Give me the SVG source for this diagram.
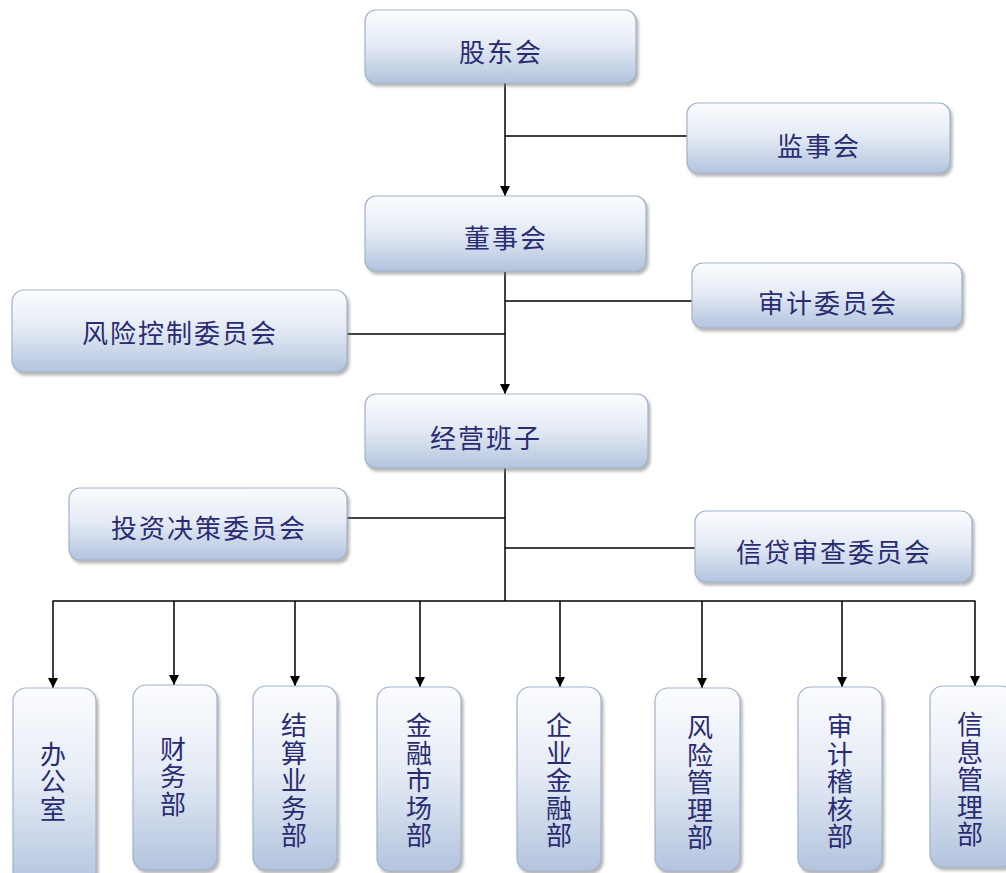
<svg xmlns="http://www.w3.org/2000/svg" width="1006" height="873" viewBox="0 0 1006 873">
<defs>
<linearGradient id="g" x1="0" y1="0" x2="0" y2="1">
<stop offset="0" stop-color="#fbfcfe"/>
<stop offset="0.45" stop-color="#e6ecf5"/>
<stop offset="1" stop-color="#b3c4de"/>
</linearGradient>
<filter id="sh" x="-10%" y="-10%" width="125%" height="130%">
<feDropShadow dx="2" dy="3" stdDeviation="1.6" flood-color="#7a7a7a" flood-opacity="0.55"/>
</filter>
<marker id="arr" markerWidth="12" markerHeight="12" refX="10" refY="5" orient="auto" markerUnits="userSpaceOnUse">
<path d="M0,0 L10,5 L0,10 Z" fill="#000"/>
</marker>
<style>
.box{fill:url(#g);stroke:#a3b3cc;stroke-width:1.2;filter:url(#sh)}
.t{font-family:"Noto Sans CJK SC","Noto Sans CJK JP",sans-serif;font-size:26px;fill:#2a2c72;text-anchor:middle;dominant-baseline:central;letter-spacing:2px}
.v{font-family:"Noto Sans CJK SC","Noto Sans CJK JP",sans-serif;font-size:26px;fill:#2a2c72;text-anchor:middle;writing-mode:vertical-rl;letter-spacing:1.5px}
.ln{stroke:#000;stroke-width:1.5;fill:none}
.ar{stroke:#000;stroke-width:1.5;fill:none;marker-end:url(#arr)}
</style>
</defs>
<rect width="1006" height="873" fill="#fff"/>

<g id="connectors">
<line class="ar" x1="505" y1="83" x2="505" y2="196"/>
<line class="ln" x1="505" y1="136" x2="687" y2="136"/>
<line class="ar" x1="505" y1="272" x2="505" y2="394"/>
<line class="ln" x1="505" y1="301" x2="692" y2="301"/>
<line class="ln" x1="347" y1="334" x2="505" y2="334"/>
<line class="ln" x1="505" y1="468" x2="505" y2="601"/>
<line class="ln" x1="347" y1="518" x2="505" y2="518"/>
<line class="ln" x1="505" y1="548" x2="695" y2="548"/>
<line class="ln" x1="52.5" y1="601" x2="975.5" y2="601"/>
<line class="ar" x1="53" y1="601" x2="53" y2="688"/>
<line class="ar" x1="174" y1="601" x2="174" y2="685"/>
<line class="ar" x1="295" y1="601" x2="295" y2="686"/>
<line class="ar" x1="420" y1="601" x2="420" y2="687"/>
<line class="ar" x1="560" y1="601" x2="560" y2="687"/>
<line class="ar" x1="702" y1="601" x2="702" y2="688"/>
<line class="ar" x1="842" y1="601" x2="842" y2="687"/>
<line class="ar" x1="975" y1="601" x2="975" y2="686"/>
</g>

<g id="gudonghui"><rect class="box" x="365" y="10" width="271" height="73" rx="11"/><text class="t" x="501" y="50">股东会</text></g>
<g id="jianshihui"><rect class="box" x="687" y="103" width="263" height="70" rx="11"/><text class="t" x="819" y="144">监事会</text></g>
<g id="dongshihui"><rect class="box" x="365" y="196" width="281" height="75" rx="11"/><text class="t" x="506" y="236">董事会</text></g>
<g id="shenjiweiyuanhui"><rect class="box" x="692" y="263" width="270" height="65" rx="11"/><text class="t" x="828" y="301">审计委员会</text></g>
<g id="fengxiankongzhi"><rect class="box" x="12" y="290" width="335" height="82" rx="12"/><text class="t" x="180" y="331">风险控制委员会</text></g>
<g id="jingyingbanzi"><rect class="box" x="365" y="394" width="283" height="74" rx="11"/><text class="t" x="486" y="436">经营班子</text></g>
<g id="touzijuece"><rect class="box" x="69" y="488" width="278" height="72" rx="11"/><text class="t" x="209" y="526">投资决策委员会</text></g>
<g id="xindaishencha"><rect class="box" x="695" y="511" width="277" height="71" rx="11"/><text class="t" x="834" y="550">信贷审查委员会</text></g>

<g id="bangongshi"><rect class="box" x="13" y="688" width="83" height="200" rx="13"/><text class="v" x="53" y="782">办公室</text></g>
<g id="caiwubu"><rect class="box" x="133" y="685" width="84" height="185" rx="13"/><text class="v" x="173" y="777">财务部</text></g>
<g id="jiesuanyewubu"><rect class="box" x="253" y="686" width="84" height="184" rx="13"/><text class="v" x="294" y="781">结算业务部</text></g>
<g id="jinrongshichangbu"><rect class="box" x="377" y="687" width="84" height="184" rx="13"/><text class="v" x="419" y="781">金融市场部</text></g>
<g id="qiyejinrongbu"><rect class="box" x="517" y="687" width="84" height="184" rx="13"/><text class="v" x="559" y="781">企业金融部</text></g>
<g id="fengxianguanlibu"><rect class="box" x="655" y="688" width="85" height="183" rx="13"/><text class="v" x="700" y="783">风险管理部</text></g>
<g id="shenjijihebu"><rect class="box" x="798" y="687" width="84" height="184" rx="13"/><text class="v" x="840" y="782">审计稽核部</text></g>
<g id="xinxiguanlibu"><rect class="box" x="930" y="686" width="84" height="181" rx="13"/><text class="v" x="970" y="780">信息管理部</text></g>
</svg>
